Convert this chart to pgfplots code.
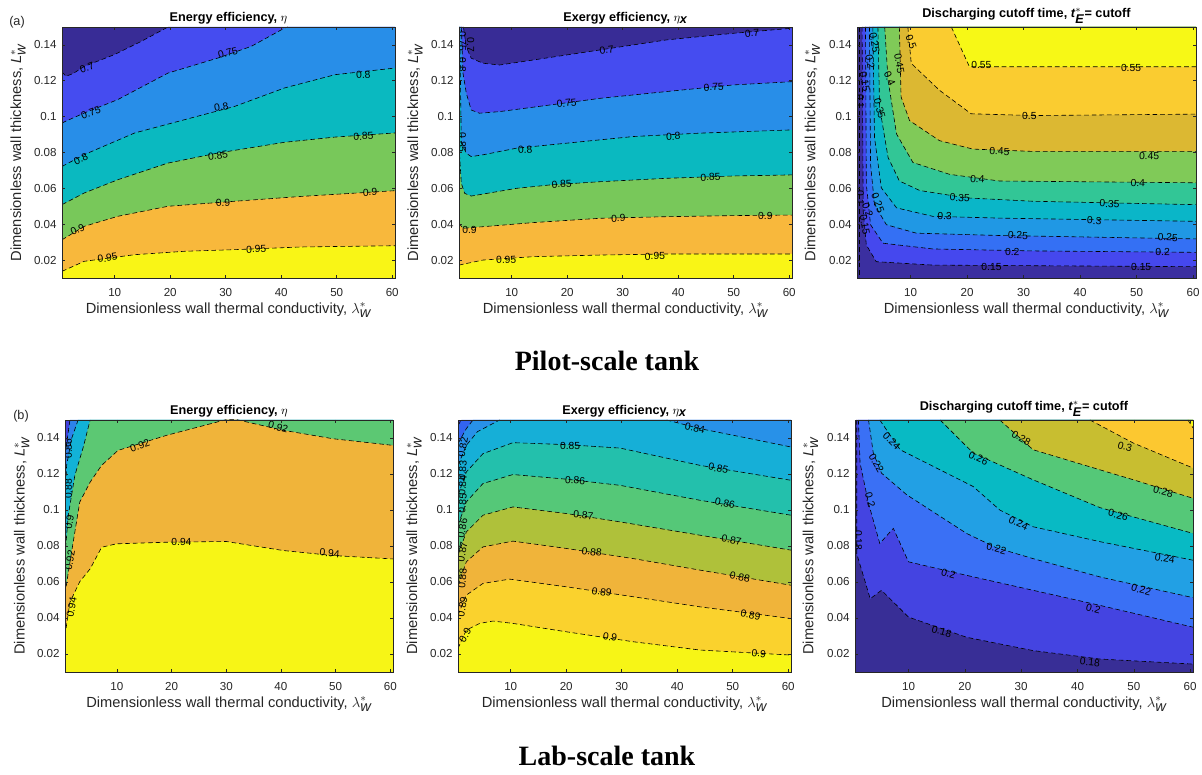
\documentclass[border=0pt]{standalone}
\usepackage{fontspec}
\setmainfont{Liberation Sans}
\newfontfamily\serifbold{Liberation Serif}
\usepackage{pgfplots}
\pgfplotsset{compat=1.18}

% parula-like band colours
\definecolor{axgray}{RGB}{38,38,38}
\definecolor{cA0}{RGB}{56,44,150}
\definecolor{cA1}{RGB}{69,76,240}
\definecolor{cA2}{RGB}{40,142,232}
\definecolor{cA3}{RGB}{10,185,192}
\definecolor{cA4}{RGB}{120,200,90}
\definecolor{cA5}{RGB}{248,184,60}
\definecolor{cA6}{RGB}{249,245,22}

\definecolor{cC0}{RGB}{53,42,135}
\definecolor{cC1}{RGB}{59,47,160}
\definecolor{cC2}{RGB}{69,72,238}
\definecolor{cC3}{RGB}{52,112,244}
\definecolor{cC4}{RGB}{32,152,228}
\definecolor{cC5}{RGB}{10,182,200}
\definecolor{cC6}{RGB}{50,198,150}
\definecolor{cC7}{RGB}{128,202,88}
\definecolor{cC8}{RGB}{220,184,50}
\definecolor{cC9}{RGB}{250,204,48}
\definecolor{cC10}{RGB}{247,248,22}

\definecolor{cD0}{RGB}{66,64,220}
\definecolor{cD1}{RGB}{45,130,235}
\definecolor{cD2}{RGB}{18,178,215}
\definecolor{cD3}{RGB}{92,200,115}
\definecolor{cD4}{RGB}{240,180,58}
\definecolor{cD5}{RGB}{247,245,22}

\definecolor{cE0}{RGB}{65,60,210}
\definecolor{cE1}{RGB}{50,100,240}
\definecolor{cE2}{RGB}{40,145,232}
\definecolor{cE3}{RGB}{22,175,215}
\definecolor{cE4}{RGB}{35,192,172}
\definecolor{cE5}{RGB}{85,200,120}
\definecolor{cE6}{RGB}{175,193,58}
\definecolor{cE7}{RGB}{240,180,58}
\definecolor{cE8}{RGB}{250,210,45}
\definecolor{cE9}{RGB}{247,245,22}

\definecolor{cF0}{RGB}{56,46,150}
\definecolor{cF1}{RGB}{68,68,225}
\definecolor{cF2}{RGB}{58,112,245}
\definecolor{cF3}{RGB}{34,160,228}
\definecolor{cF4}{RGB}{8,186,196}
\definecolor{cF5}{RGB}{85,200,120}
\definecolor{cF6}{RGB}{200,190,48}
\definecolor{cF7}{RGB}{252,200,48}
\definecolor{cF8}{RGB}{247,248,22}

\newcommand\ticfont{\fontsize{8.7}{10}\selectfont}
\newcommand\labfont{\fontsize{11}{13}\selectfont}
\newcommand\titfont{\fontsize{9.5}{11}\selectfont\bfseries}
\newcommand\clfont{\fontsize{7.7}{9}\selectfont}

% contour lines (lambda_w, L_w)
% (a) energy efficiency: 0.7 0.75 0.8 0.85 0.9 0.95
\def\pAa{(0.5,0.125) (1.2,0.1225) (2.5,0.124) (4.5,0.128) (9.95,0.1346) (14.8,0.142) (19.6,0.15)}
\def\pAb{(0.5,0.0964) (1.2,0.0975) (4.5,0.102) (10.55,0.1095) (19.6,0.1243) (28.6,0.1327) (34.6,0.1392) (40.6,0.1494) (41.2,0.15)}
\def\pAc{(0.5,0.0722) (4.5,0.0788) (13.6,0.0909) (22.6,0.0983) (31.6,0.1057) (40.6,0.116) (49.7,0.1234) (60.5,0.1271)}
\def\pAd{(0.5,0.0509) (4.5,0.0574) (10.55,0.0648) (19.6,0.0741) (28.6,0.0797) (40.6,0.0857) (49.7,0.0886) (60.5,0.0909)}
\def\pAe{(0.5,0.0313) (4.5,0.0388) (10.55,0.0444) (19.6,0.05) (31.6,0.0528) (43.6,0.0555) (60.5,0.0587)}
\def\pAf{(0.5,0.0137) (4.5,0.0193) (13.6,0.023) (22.6,0.0249) (31.6,0.0258) (43.6,0.0273) (60.5,0.028)}
% (a) exergy efficiency
\def\pBa{(1.3,0.15) (1.8,0.139) (2.7,0.1326) (4.8,0.1298) (7.8,0.1288) (13.9,0.1316) (25.9,0.1372) (37.9,0.1428) (50,0.1465) (60.5,0.1493)}
\def\pBb{(0.92,0.15) (1.22,0.1242) (1.82,0.113) (2.7,0.1037) (4.2,0.1019) (7.8,0.1028) (16.9,0.1065) (25.9,0.1102) (37.9,0.114) (50,0.1177) (60.5,0.1195)}
\def\pBc{(0.62,0.15) (0.8,0.1112) (0.92,0.0852) (1.82,0.0796) (2.7,0.0777) (4.8,0.0787) (10.85,0.0824) (19.9,0.0852) (31.9,0.0889) (44,0.0908) (60.5,0.0926)}
\def\pBd{(0.5,0.0833) (0.92,0.0628) (1.52,0.0572) (2.7,0.0557) (4.8,0.0568) (10.85,0.06) (16.9,0.0619) (25.9,0.0637) (37.9,0.0656) (50,0.0669) (60.5,0.0675)}
\def\pBe{(0.5,0.0405) (1.2,0.0377) (4.8,0.0386) (13.9,0.0409) (25.9,0.0433) (37.9,0.0442) (50,0.0448) (60.5,0.0451)}
\def\pBf{(0.5,0.0172) (4.8,0.02) (13.9,0.0219) (25.9,0.0228) (37.9,0.0234) (60.5,0.0234)}
% (a) discharging cutoff time: 0.1 ... 0.55
\def\pCa{(0.97,0.15) (0.97,0.01)}
\def\pCb{(1.4,0.15) (1.6,0.0472) (2.15,0.0284) (3.9,0.0191) (13.9,0.0172) (60.5,0.0163)}
\def\pCc{(2.0,0.15) (2.15,0.0622) (2.9,0.0397) (5.1,0.0294) (13.9,0.0262) (31.6,0.0251) (60.5,0.0243)}
\def\pCd{(2.7,0.15) (2.9,0.0734) (3.6,0.0509) (5.7,0.0397) (11,0.035) (25.7,0.0337) (60.5,0.0318)}
\def\pCe{(3.3,0.15) (3.6,0.0884) (4.8,0.0603) (7.5,0.0491) (13.9,0.0444) (25.7,0.0434) (60.5,0.0416)}
\def\pCf{(4.2,0.15) (4.5,0.1053) (6.0,0.0772) (8.0,0.0641) (11.6,0.0588) (19.8,0.0547) (31.6,0.0528) (60.5,0.0509)}
\def\pCg{(5.4,0.15) (6.0,0.1203) (7.5,0.0903) (10.4,0.0744) (16.9,0.0678) (25.7,0.0641) (60.5,0.0631)}
\def\pCh{(8.0,0.15) (8.3,0.111) (9.8,0.0978) (15.1,0.0866) (21,0.0819) (31.6,0.0806) (60.5,0.0806)}
\def\pCi{(9.5,0.15) (10.1,0.1297) (15.1,0.1147) (20.7,0.1016) (31.6,0.1006) (60.5,0.1014)}
\def\pCj{(17.2,0.15) (20.4,0.1278) (60.5,0.1278)}
% (b) energy efficiency: 0.86 ... 0.94
\def\pDa{(0.5,0.1304) (1.1,0.1433) (1.4,0.15)}
\def\pDb{(0.5,0.1062) (0.8,0.1248) (1.7,0.1396) (2.9,0.15)}
\def\pDc{(0.5,0.0747) (1.1,0.097) (2.3,0.1192) (3.85,0.135) (5.1,0.15)}
\def\pDd{(0.5,0.0534) (1.4,0.071) (3.2,0.1044) (5.1,0.1155) (7.2,0.1248) (10.2,0.1331) (19.1,0.1415) (30,0.1502) (31.9,0.1502) (40.4,0.1443) (49.5,0.1396) (60.5,0.1359)}
\def\pDe{(0.5,0.0302) (1.4,0.0487) (3.2,0.0602) (5.1,0.0673) (7.2,0.0793) (9.9,0.0812) (19.1,0.0821) (30,0.0825) (40.4,0.0775) (49.5,0.0747) (60.5,0.0728)}
% (b) exergy efficiency: 0.82 ... 0.9
\def\pEa{(0.5,0.147) (1.1,0.15)}
\def\pEb{(0.5,0.1369) (2,0.1452) (3.2,0.15)}
\def\pEc{(0.5,0.1248) (2,0.1359) (4,0.1435) (8,0.15)}
\def\pEcc{(38.1,0.15) (44.1,0.1452) (53.2,0.1396) (60.5,0.135)}
\def\pEd{(0.5,0.1082) (2,0.1211) (5,0.1313) (10.4,0.1374) (20.1,0.1363) (29.7,0.1344) (44.1,0.1248) (60.5,0.1165)}
\def\pEe{(0.5,0.0915) (2,0.1045) (5,0.1147) (10.4,0.1197) (20.1,0.1171) (29.7,0.1137) (44.1,0.1054) (60.5,0.0971)}
\def\pEf{(0.5,0.0749) (2,0.0878) (5,0.0971) (10.4,0.1017) (20.1,0.098) (29.7,0.0934) (44.1,0.086) (60.5,0.0777)}
\def\pEg{(0.5,0.0582) (2,0.0712) (5,0.0795) (10.4,0.0827) (20.1,0.0786) (32.1,0.073) (44.1,0.0666) (60.5,0.0582)}
\def\pEh{(0.5,0.0416) (2,0.0527) (5,0.0592) (9.8,0.0616) (20.1,0.0573) (32.1,0.0518) (44.1,0.0462) (60.5,0.0397)}
\def\pEi{(0.5,0.0231) (2,0.0333) (4.4,0.037) (6.8,0.0383) (10.4,0.037) (20.1,0.0323) (32.1,0.0268) (44.1,0.0222) (60.5,0.0194)}
% (b) discharging cutoff time: 0.18 ... 0.32
\def\pFa{(0.8,0.15) (0.8,0.0758) (3.2,0.0507) (5.2,0.0554) (10,0.0405) (20.3,0.0293) (32.1,0.0219) (44,0.0172) (60.5,0.0144)}
\def\pFb{(1.1,0.15) (1.4,0.126) (2.9,0.1037) (4.9,0.0814) (7.3,0.0898) (10,0.0712) (20.3,0.0637) (32.1,0.0554) (44,0.047) (60.5,0.0349)}
\def\pFc{(2.9,0.15) (3.75,0.1316) (5.2,0.1205) (9.7,0.1084) (20.3,0.087) (25.6,0.079) (32.1,0.073) (44,0.0628) (60.5,0.0513)}
\def\pFd{(4.9,0.15) (8.5,0.1335) (15.6,0.1223) (21.5,0.113) (26.2,0.1) (32.1,0.0907) (44,0.0824) (60.5,0.0721)}
\def\pFe{(15.6,0.15) (21.5,0.1316) (32.1,0.1168) (44,0.1013) (60.5,0.087)}
\def\pFf{(26.2,0.15) (32.1,0.1335) (44,0.1223) (49.9,0.1168) (60.5,0.1065)}
\def\pFg{(42.2,0.15) (49.9,0.1372) (60.5,0.1233)}
\def\pFh{(59.6,0.15) (60.5,0.1456)}

\newcommand\band[2]{\edef\tmp{\noexpand\addplot[draw=none,fill=#1,forget plot] coordinates {#2};}\tmp}
\newcommand\ctr[1]{\edef\tmp{\noexpand\addplot[ctr] coordinates {#1};}\tmp}
\newcommand\lab[4]{\node[rotate=#3,font=\clfont,inner sep=0pt] at (axis cs:#1,#2) {#4};}

\pgfplotsset{
  ctr/.style={draw=black, line width=0.45pt, dash pattern=on 3.5pt off 2.2pt, no markers, forget plot},
  panel/.style 2 args={
    scale only axis, width=#1, height=#2,
    xmin=0.5, xmax=60.5, ymin=0.01, ymax=0.15,
    xtick={10,20,30,40,50,60},
    ytick={0.02,0.04,0.06,0.08,0.1,0.12,0.14},
    scaled y ticks=false,
    yticklabel style={/pgf/number format/fixed, /pgf/number format/precision=2, xshift=-0.5pt},
    /pgf/number format/assume math mode=true,
    tick label style={font=\ticfont, text=axgray},
    xticklabel style={yshift=-4pt},
    tick align=inside, major tick length=2.5pt,
    every tick/.style={axgray, line width=0.45pt},
    axis line style={axgray, line width=0.5pt},
    axis on top,
    title style={font=\titfont, at={(axis description cs:0.5,1)}, anchor=south, inner sep=1.5pt, yshift=-5.25pt},
    label style={font=\labfont, text=axgray},
    xlabel style={at={(axis description cs:0.5,0)}, anchor=center, yshift=-24pt},
    ylabel style={at={(axis description cs:-0.132,0.5)}, anchor=center},
    xlabel={Dimensionless wall thermal conductivity, $\lambda^{*}_{\textit{w}}$},
    ylabel={Dimensionless wall thickness, \textit{L}$^{*}_{\textit{w}}$},
  },
}

\begin{document}
\begin{tikzpicture}
\path[use as bounding box] (0,0) rectangle (901.5pt,580.5pt);

%---------------- (a) energy efficiency
\begin{axis}[panel={249.75pt}{188.25pt}, at={(46.5pt,560.25pt)}, anchor=north west,
  title={Energy efficiency, $\eta$}]
\band{cA0}{(0.5,0.01) (60.5,0.01) (60.5,0.15) (0.5,0.15)}
\band{cA1}{\pAa (60.5,0.15) (60.5,0.01) (0.5,0.01)}
\band{cA2}{\pAb (60.5,0.15) (60.5,0.01) (0.5,0.01)}
\band{cA3}{\pAc (60.5,0.01) (0.5,0.01)}
\band{cA4}{\pAd (60.5,0.01) (0.5,0.01)}
\band{cA5}{\pAe (60.5,0.01) (0.5,0.01)}
\band{cA6}{\pAf (60.5,0.01) (0.5,0.01)}
\ctr{\pAa}\ctr{\pAb}\ctr{\pAc}\ctr{\pAd}\ctr{\pAe}\ctr{\pAf}
\lab{5.0}{0.1271}{20}{0.7}
\lab{5.7}{0.102}{20}{0.75}
\lab{30.4}{0.1355}{15}{0.75}
\lab{3.9}{0.0764}{25}{0.8}
\lab{29.2}{0.1054}{10}{0.8}
\lab{54.8}{0.1234}{3}{0.8}
\lab{28.6}{0.0782}{8}{0.85}
\lab{54.8}{0.089}{3}{0.85}
\lab{3.3}{0.0369}{25}{0.9}
\lab{29.5}{0.0518}{3}{0.9}
\lab{56}{0.0578}{2}{0.9}
\lab{8.7}{0.0211}{8}{0.95}
\lab{35.5}{0.0261}{2}{0.95}
\end{axis}

%---------------- (a) exergy efficiency
\begin{axis}[panel={249.75pt}{188.25pt}, at={(344.25pt,560.25pt)}, anchor=north west,
  title={Exergy efficiency, $\eta_{\textit{x}}$}]
\band{cA0}{(0.5,0.01) (60.5,0.01) (60.5,0.15) (0.5,0.15)}
\band{cA1}{\pBa (60.5,0.01) (0.5,0.01) (0.5,0.15)}
\band{cA2}{\pBb (60.5,0.01) (0.5,0.01) (0.5,0.15)}
\band{cA3}{\pBc (60.5,0.01) (0.5,0.01) (0.5,0.15)}
\band{cA4}{\pBd (60.5,0.01) (0.5,0.01)}
\band{cA5}{\pBe (60.5,0.01) (0.5,0.01)}
\band{cA6}{\pBf (60.5,0.01) (0.5,0.01)}
\ctr{\pBa}\ctr{\pBb}\ctr{\pBc}\ctr{\pBd}\ctr{\pBe}\ctr{\pBf}
\lab{27.1}{0.1372}{8}{0.7}
\lab{53.3}{0.1465}{3}{0.7}
\lab{19.9}{0.1075}{5}{0.75}
\lab{46.4}{0.1164}{3}{0.75}
\lab{12.4}{0.0815}{5}{0.8}
\lab{39.1}{0.0889}{3}{0.8}
\lab{19}{0.0624}{3}{0.85}
\lab{45.8}{0.0662}{2}{0.85}
\lab{2.4}{0.0368}{0}{0.9}
\lab{29.2}{0.0433}{2}{0.9}
\lab{55.7}{0.0446}{0}{0.9}
\lab{9.0}{0.0202}{3}{0.95}
\lab{35.8}{0.0221}{1}{0.95}
\lab{2.6}{0.14}{-90}{0.7}
\lab{1.1}{0.142}{-90}{0.75}
\lab{1.1}{0.129}{-90}{0.8}
\lab{1.1}{0.0855}{-90}{0.85}
\end{axis}

%---------------- (a) discharging cutoff time
\begin{axis}[panel={254.25pt}{188.25pt}, at={(642.75pt,560.25pt)}, anchor=north west,
  title={Discharging cutoff time, \textit{t}$^{*}_{\textit{E}}$= cutoff}]
\band{cC0}{(0.5,0.01) (60.5,0.01) (60.5,0.15) (0.5,0.15)}
\band{cC1}{\pCa (60.5,0.01) (60.5,0.15)}
\band{cC2}{\pCb (60.5,0.15)}
\band{cC3}{\pCc (60.5,0.15)}
\band{cC4}{\pCd (60.5,0.15)}
\band{cC5}{\pCe (60.5,0.15)}
\band{cC6}{\pCf (60.5,0.15)}
\band{cC7}{\pCg (60.5,0.15)}
\band{cC8}{\pCh (60.5,0.15)}
\band{cC9}{\pCi (60.5,0.15)}
\band{cC10}{\pCj (60.5,0.15)}
\ctr{\pCa}\ctr{\pCb}\ctr{\pCc}\ctr{\pCd}\ctr{\pCe}\ctr{\pCf}\ctr{\pCg}\ctr{\pCh}\ctr{\pCi}\ctr{\pCj}
\lab{22.5}{0.1287}{0}{0.55}
\lab{49}{0.1269}{0}{0.55}
\lab{10.1}{0.1419}{-70}{0.5}
\lab{31}{0.1003}{0}{0.5}
\lab{8.0}{0.1297}{-80}{0.45}
\lab{25.7}{0.0806}{-2}{0.45}
\lab{52.2}{0.0781}{-2}{0.45}
\lab{6.3}{0.1213}{-65}{0.4}
\lab{21.8}{0.065}{-3}{0.4}
\lab{50.2}{0.0631}{-2}{0.4}
\lab{4.5}{0.1045}{-75}{0.35}
\lab{18.7}{0.0547}{-3}{0.35}
\lab{45.2}{0.0513}{-3}{0.35}
\lab{16}{0.0444}{-2}{0.3}
\lab{42.5}{0.0419}{-3}{0.3}
\lab{4.2}{0.0519}{-70}{0.25}
\lab{29}{0.0337}{-2}{0.25}
\lab{55.5}{0.0326}{-3}{0.25}
\lab{2.4}{0.0481}{-70}{0.2}
\lab{28}{0.0247}{-1}{0.2}
\lab{54.6}{0.0243}{-1}{0.2}
\lab{1.9}{0.0397}{-80}{0.15}
\lab{24.3}{0.0163}{0}{0.15}
\lab{50.8}{0.0163}{0}{0.15}
\lab{1.1}{0.0547}{-90}{0.1}
\lab{3.6}{0.1415}{-80}{0.25}
\lab{2.8}{0.1305}{-80}{0.2}
\lab{1.9}{0.1195}{-80}{0.15}
\lab{1.1}{0.1085}{-90}{0.1}
\end{axis}

%---------------- (b) energy efficiency
\begin{axis}[panel={246pt}{189pt}, at={(48.75pt,265.5pt)}, anchor=north west,
  title={Energy efficiency, $\eta$}]
\band{cD0}{(0.5,0.01) (60.5,0.01) (60.5,0.15) (0.5,0.15)}
\band{cD1}{\pDa (60.5,0.15) (60.5,0.01) (0.5,0.01)}
\band{cD2}{\pDb (60.5,0.15) (60.5,0.01) (0.5,0.01)}
\band{cD3}{\pDc (60.5,0.15) (60.5,0.01) (0.5,0.01)}
\band{cD4}{\pDd (60.5,0.01) (0.5,0.01)}
\band{cD5}{\pDe (60.5,0.01) (0.5,0.01)}
\ctr{\pDa}\ctr{\pDb}\ctr{\pDc}\ctr{\pDd}\ctr{\pDe}
\lab{14.2}{0.1359}{20}{0.92}
\lab{39.5}{0.1461}{-15}{0.92}
\lab{21.8}{0.0821}{0}{0.94}
\lab{48.9}{0.076}{-5}{0.94}
\lab{1.7}{0.046}{80}{0.94}
\lab{1.4}{0.072}{80}{0.92}
\lab{1.3}{0.0933}{80}{0.9}
\lab{1.1}{0.1118}{90}{0.88}
\lab{1.1}{0.1341}{90}{0.86}
\end{axis}

%---------------- (b) exergy efficiency
\begin{axis}[panel={249.75pt}{189pt}, at={(343.5pt,265.5pt)}, anchor=north west,
  title={Exergy efficiency, $\eta_{\textit{x}}$}]
\band{cE0}{(0.5,0.01) (60.5,0.01) (60.5,0.15) (0.5,0.15)}
\band{cE1}{\pEa (60.5,0.15) (60.5,0.01) (0.5,0.01)}
\band{cE2}{\pEb (60.5,0.15) (60.5,0.01) (0.5,0.01)}
\band{cE3}{\pEc \pEcc (60.5,0.01) (0.5,0.01)}
\band{cE4}{\pEd (60.5,0.01) (0.5,0.01)}
\band{cE5}{\pEe (60.5,0.01) (0.5,0.01)}
\band{cE6}{\pEf (60.5,0.01) (0.5,0.01)}
\band{cE7}{\pEg (60.5,0.01) (0.5,0.01)}
\band{cE8}{\pEh (60.5,0.01) (0.5,0.01)}
\band{cE9}{\pEi (60.5,0.01) (0.5,0.01)}
\ctr{\pEa}\ctr{\pEb}\ctr{\pEc}\ctr{\pEcc}\ctr{\pEd}\ctr{\pEe}\ctr{\pEf}\ctr{\pEg}\ctr{\pEh}\ctr{\pEi}
\lab{43.2}{0.1455}{-12}{0.84}
\lab{20.7}{0.1356}{0}{0.85}
\lab{47.4}{0.123}{-12}{0.85}
\lab{21.6}{0.1165}{-4}{0.86}
\lab{48.6}{0.1036}{-12}{0.86}
\lab{23.1}{0.0971}{-5}{0.87}
\lab{49.8}{0.0832}{-10}{0.87}
\lab{24.6}{0.0767}{-7}{0.88}
\lab{51.3}{0.0629}{-10}{0.88}
\lab{26.4}{0.0545}{-8}{0.89}
\lab{53.2}{0.0416}{-10}{0.89}
\lab{27.9}{0.0296}{-8}{0.9}
\lab{54.7}{0.0203}{-5}{0.9}
\lab{1.8}{0.0305}{60}{0.9}
\lab{1.3}{0.0462}{80}{0.89}
\lab{1.3}{0.0619}{85}{0.88}
\lab{1.3}{0.0767}{80}{0.87}
\lab{1.3}{0.0897}{80}{0.86}
\lab{1.3}{0.1036}{85}{0.85}
\lab{1.3}{0.1137}{85}{0.84}
\lab{1.3}{0.122}{85}{0.83}
\lab{1.4}{0.135}{80}{0.82}
\end{axis}

%---------------- (b) discharging cutoff time
\begin{axis}[panel={253.5pt}{189pt}, at={(641.25pt,265.5pt)}, anchor=north west,
  title={Discharging cutoff time, \textit{t}$^{*}_{\textit{E}}$= cutoff}]
\band{cF0}{(0.5,0.01) (60.5,0.01) (60.5,0.15) (0.5,0.15)}
\band{cF1}{\pFa (60.5,0.15)}
\band{cF2}{\pFb (60.5,0.15)}
\band{cF3}{\pFc (60.5,0.15)}
\band{cF4}{\pFd (60.5,0.15)}
\band{cF5}{\pFe (60.5,0.15)}
\band{cF6}{\pFf (60.5,0.15)}
\band{cF7}{\pFg (60.5,0.15)}
\band{cF8}{\pFh (60.5,0.15)}
\ctr{\pFa}\ctr{\pFb}\ctr{\pFc}\ctr{\pFd}\ctr{\pFe}\ctr{\pFf}\ctr{\pFg}\ctr{\pFh}
\lab{7}{0.1381}{-45}{0.24}
\lab{4.3}{0.126}{-60}{0.22}
\lab{3.2}{0.1056}{-75}{0.2}
\lab{1.1}{0.0833}{-90}{0.18}
\lab{22.4}{0.1288}{-25}{0.26}
\lab{30}{0.14}{-30}{0.28}
\lab{48.4}{0.1353}{-15}{0.3}
\lab{55.2}{0.1102}{-15}{0.28}
\lab{47.2}{0.0972}{-15}{0.26}
\lab{29.5}{0.0926}{-25}{0.24}
\lab{55.5}{0.073}{-10}{0.24}
\lab{25.6}{0.0786}{-15}{0.22}
\lab{51.3}{0.0557}{-15}{0.22}
\lab{17.1}{0.0647}{-15}{0.2}
\lab{42.8}{0.0451}{-15}{0.2}
\lab{15.9}{0.0325}{-15}{0.18}
\lab{42.2}{0.0154}{-5}{0.18}
\end{axis}

\node[font=\fontsize{9.5}{11}\selectfont, text=axgray] at (12.75pt,564pt) {(a)};
\node[font=\fontsize{9.5}{11}\selectfont, text=axgray] at (15.75pt,268.5pt) {(b)};
\node[font=\serifbold\bfseries\fontsize{21}{25}\selectfont, anchor=base] at (455.25pt,302.5pt) {Pilot-scale tank};
\node[font=\serifbold\bfseries\fontsize{21}{25}\selectfont, anchor=base] at (455.25pt,6pt) {Lab-scale tank};
\end{tikzpicture}
\end{document}
